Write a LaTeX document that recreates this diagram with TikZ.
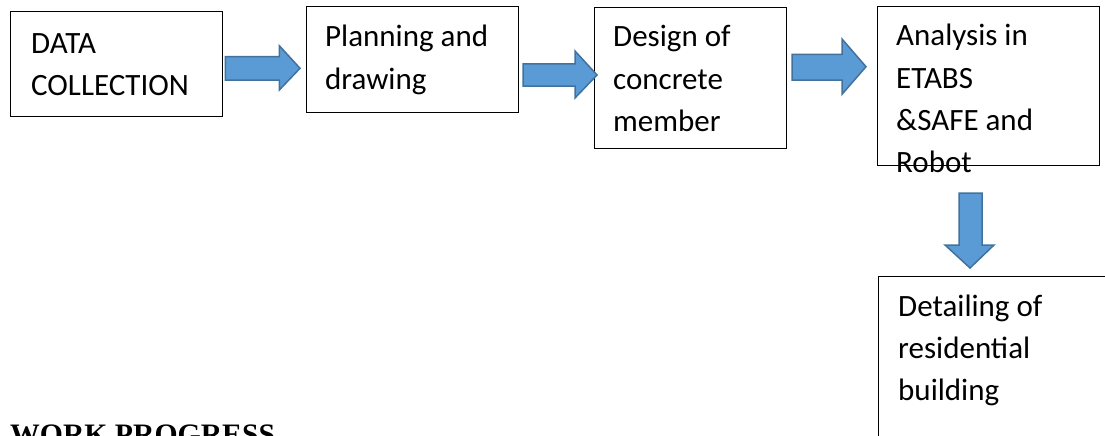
\documentclass[tikz,border=0pt]{standalone}
\usepackage{fontspec}
\setmainfont{Carlito}
\newfontfamily\titlefont{Liberation Serif}
\definecolor{arrowfill}{HTML}{5B9BD5}
\definecolor{arrowline}{HTML}{41719C}
\newcommand\boxfont{\fontsize{31}{42.3}\selectfont}
\tikzset{
  stepbox/.style={draw=black, line width=1.3pt, inner sep=0pt, anchor=north west},
  steptext/.style={inner sep=0pt, anchor=north west, align=left, font=\boxfont},
  blockarrow/.style={fill=arrowfill, draw=arrowline, line width=1.5pt, line join=miter}
}
\begin{document}
\begin{tikzpicture}[x=1pt, y=-1pt]
\useasboundingbox (0,0) rectangle (1105,436);
% boxes
\node[stepbox, minimum width=212pt, minimum height=105pt] (b1) at (10,11) {};
\node[stepbox, minimum width=212pt, minimum height=106pt] (b2) at (306,6) {};
\node[stepbox, minimum width=192pt, minimum height=141pt] (b3) at (594,7) {};
\node[stepbox, minimum width=222pt, minimum height=159pt] (b4) at (877,6) {};
\node[stepbox, minimum width=250pt, minimum height=200pt] (b5) at (878,276) {};
% texts
\node[steptext] (t1) at (31,23.7) {\strut DATA\\COLLECTION};
\node[steptext] (t2) at (325,17.1) {\strut Planning and\\drawing};
\node[steptext] (t3) at (613,17.1) {\strut Design of\\concrete\\member};
\node[steptext] (t4) at (896,16.1) {\strut Analysis in\\ETABS\\\&SAFE and\\Robot};
\node[steptext] (t5) at (898,286.4) {\strut Detailing of\\residential\\building};
% block arrows
\draw[blockarrow] (225.3,56.7) -- (279.3,56.7) -- (279.3,45.7) -- (300,68.3) -- (279.3,90) -- (279.3,80) -- (225.3,80) -- cycle;
\draw[blockarrow] (523,64) -- (575,64) -- (575,51) -- (597,75) -- (575,98) -- (575,86) -- (523,86) -- cycle;
\draw[blockarrow] (792,54.3) -- (842,54.3) -- (842,39) -- (866,66.7) -- (842,94.3) -- (842,80) -- (792,80) -- cycle;
\draw[blockarrow] (959,193) -- (982,193) -- (982,245) -- (994,245) -- (970,268) -- (945,245) -- (959,245) -- cycle;
% title (cut off at the bottom)
\node[inner sep=0pt, anchor=base west, font=\titlefont\bfseries\fontsize{29.7}{34}\selectfont] (title) at (10,444.7) {WORK PROGRESS};
\end{tikzpicture}
\end{document}
